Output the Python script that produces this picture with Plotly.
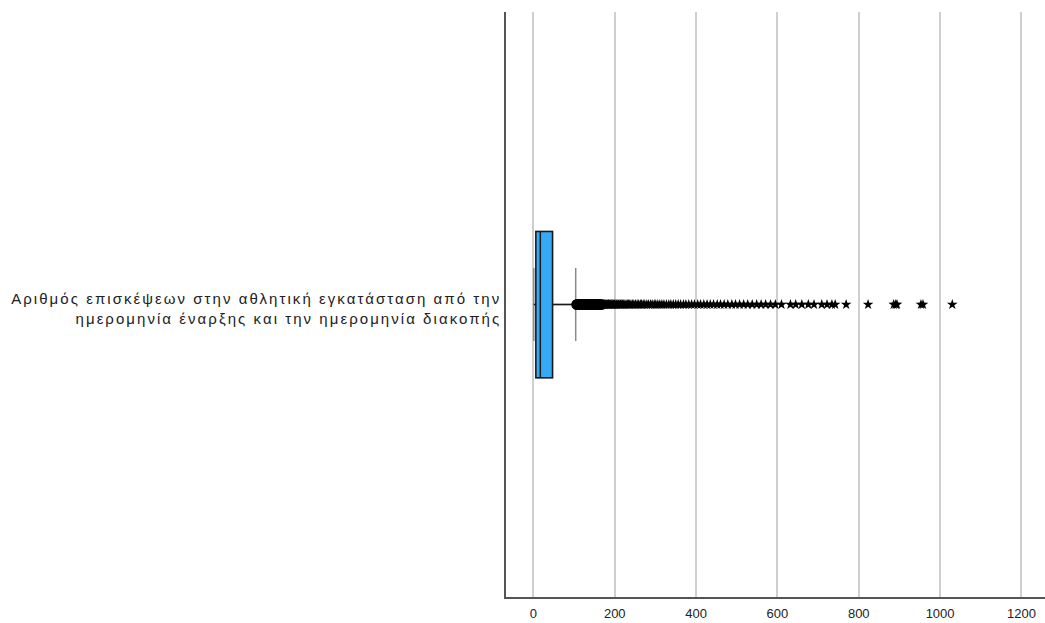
import plotly.graph_objects as go

label_lines = ["Αριθμός επισκέψεων στην αθλητική εγκατάσταση από την",
               "ημερομηνία έναρξης και την ημερομηνία διακοπής"]
category = ["<br>".join('<span style="letter-spacing:2.05px">' + s + '</span>' for s in label_lines)]
lower_fence = [1]
q1 = [6]
median = [17]
q3 = [47]
upper_fence = [104]

outliers_mild = [106, 107, 108, 109, 110, 111, 112, 113, 114, 115, 116, 117, 118, 119, 120,
                 121, 122, 123, 124, 125, 126, 127, 128, 129, 130, 131, 132, 133, 134, 135,
                 136, 137, 138, 139, 140, 141, 142, 143, 144, 145, 146, 147, 148, 149, 150,
                 151, 152, 153, 154, 155, 156, 157, 158, 160, 162, 164, 166, 168]

outliers_extreme = [171, 173, 175, 176, 178, 180, 182, 184, 185, 187, 189, 191, 193, 195, 197,
                    199, 201, 204, 206, 209, 211, 214, 216, 219, 222, 225, 228, 231, 234, 237,
                    240, 244, 247, 251, 255, 259, 263, 266, 270, 274, 279, 283, 288, 292, 297,
                    301, 306, 311, 316, 321, 327, 333, 338, 344, 350, 356, 362, 369, 375, 382,
                    389, 396, 404, 411, 419, 427, 435, 443, 452, 460, 469, 478, 488, 497, 507,
                    517, 527, 538, 549, 560, 571, 583, 595, 610, 632, 645, 660, 676, 690, 709,
                    722, 734, 742, 769, 823, 886, 891, 894, 953, 958, 1030]

x_ticks = [0, 200, 400, 600, 800, 1000, 1200]

fig = go.Figure()

# gray whiskers with caps
fig.add_trace(go.Box(
    y=category, q1=q1, median=median, q3=q3,
    lowerfence=lower_fence, upperfence=upper_fence,
    orientation="h", width=0.25, whiskerwidth=0.5,
    fillcolor="#35abf8", line=dict(color="#8a8a8a", width=1.5),
    boxpoints=False, showlegend=False, hoverinfo="skip"))

# black box outline and whisker line
fig.add_trace(go.Box(
    y=category, q1=q1, median=median, q3=q3,
    lowerfence=lower_fence, upperfence=upper_fence,
    orientation="h", width=0.25, whiskerwidth=0,
    fillcolor="#35abf8", line=dict(color="#1a1a1a", width=1.5),
    boxpoints=False, showlegend=False))

fig.add_trace(go.Scatter(
    x=outliers_mild, y=category * len(outliers_mild), mode="markers",
    marker=dict(symbol="circle-open", size=9, color="#000000", line=dict(width=1.5)),
    showlegend=False))

fig.add_trace(go.Scatter(
    x=outliers_extreme, y=category * len(outliers_extreme), mode="markers",
    marker=dict(symbol="star", size=8, color="#000000", line=dict(width=0)),
    showlegend=False))

fig.update_layout(
    width=1045, height=623,
    margin=dict(l=506, r=0, t=12, b=26),
    paper_bgcolor="white", plot_bgcolor="white",
    boxmode="overlay",
    font=dict(family="Liberation Sans, Arial, sans-serif", color="#000000"),
    xaxis=dict(range=[-67.4, 1258], tickvals=x_ticks, ticktext=[str(v) for v in x_ticks],
               showgrid=True, gridcolor="#cfcfcf", gridwidth=2, zeroline=False,
               showline=True, linecolor="#555555", linewidth=1.5,
               ticks="", tickfont=dict(size=13, color="#222222"), ticklabelstandoff=4),
    yaxis=dict(showgrid=False, zeroline=False, showline=True, linecolor="#555555",
               linewidth=1.5, ticks="", tickfont=dict(size=15, color="#222222"),
               ticklabelshift=4, range=[-0.5, 0.5], automargin=False),
)

fig.write_html("out.html")
